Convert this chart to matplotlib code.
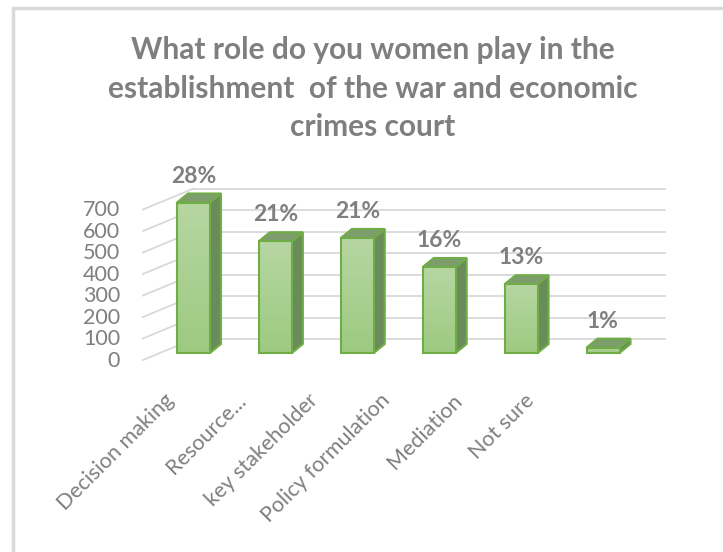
import numpy as np
import matplotlib
matplotlib.use("Agg")
import matplotlib.pyplot as plt
from matplotlib.patches import Polygon, Rectangle
from matplotlib.colors import LinearSegmentedColormap

plt.rcParams['font.family'] = ['Lato', 'DejaVu Sans']

title_lines = ["What role do you women play in the",
               "establishment  of the war and economic",
               "crimes court"]
categories = ["Decision making", "Resource...", "key stakeholder",
              "Policy formulation", "Mediation", "Not sure"]
counts = [700, 520, 535, 400, 320, 25]
y_ticks = [0, 100, 200, 300, 400, 500, 600, 700]

# colours of the 3d columns
edge_col = "#70ad47"
side_col = "#6a8c5a"
top_col = "#7d9d6d"
grid_col = "#d9d9d9"
text_col = "#7f7f7f"

# figure geometry (pixels)
W, H = 723, 552
px_x = 81.9    # pixels per category
px_y = 0.215   # pixels per unit of value
x0_px, base_px = 193.5, 353

fig = plt.figure(figsize=(W / 100, H / 100), dpi=100)
ax = fig.add_axes([0, 0, 1, 1])
ax.axis("off")

# depth offsets in data units
bar_dx, bar_dy = 11 / px_x, 9 / px_y
half_w = 16.5 / px_x
wall_dx, wall_dy = 19 / px_x, 14 / px_y
front_dx, front_dy = -50.5 / px_x, -7 / px_y
wall_right = 5.757

# back wall grid and side wall diagonals
for t in y_ticks:
    ax.plot([wall_dx - half_w - 0.03, wall_right], [t + wall_dy, t + wall_dy],
            color=grid_col, lw=1.3, zorder=1)
    ax.plot([front_dx, wall_dx - half_w - 0.03], [t + front_dy, t + wall_dy],
            color=grid_col, lw=1.3, zorder=1)
    ax.text(-0.897, t - 37, str(t), ha="right", va="center",
            fontsize=15.5, color=text_col)

cmap = LinearSegmentedColormap.from_list("face", ["#9dca81", "#b6d6a2"])
grad = np.linspace(0, 1, 64).reshape(-1, 1)
total = sum(counts)

for i, v in enumerate(counts):
    l, r = i - half_w, i + half_w
    # side face
    side = Polygon([(r, 0), (r + bar_dx, bar_dy), (r + bar_dx, v + bar_dy), (r, v)],
                   closed=True, fc=side_col, ec=edge_col, lw=1.5, zorder=3)
    ax.add_patch(side)
    # top face
    top = Polygon([(l, v), (l + bar_dx, v + bar_dy), (r + bar_dx, v + bar_dy), (r, v)],
                  closed=True, fc=top_col, ec=edge_col, lw=1.5, zorder=3)
    ax.add_patch(top)
    # front face with vertical gradient
    im = ax.imshow(grad, cmap=cmap, origin="lower", aspect="auto",
                   extent=[l, r, 0, v], zorder=4)
    front = Rectangle((l, 0), r - l, v, fc="none", ec=edge_col, lw=1.5, zorder=5)
    ax.add_patch(front)
    im.set_clip_path(front)
    pct = round(100 * v / total)
    ax.text(i, v + 122, f"{pct}%", ha="center", va="center",
            fontsize=16.5, fontweight="bold", color=text_col, zorder=6)

# rotated category labels along the front edge
for i, name in enumerate(categories):
    x = (164 + 72 * i - x0_px) / px_x
    ax.text(x, (base_px - 390) / px_y, name, rotation=45, rotation_mode="anchor",
            ha="right", va="top", fontsize=15.5, color=text_col)

ax.set_xlim((0 - x0_px) / px_x, (W - x0_px) / px_x)
ax.set_ylim((base_px - H) / px_y, base_px / px_y)

for k, line in enumerate(title_lines):
    fig.text(373 / W, 1 - (50 + 38.5 * k) / H, line, ha="center", va="center",
             fontsize=21.5, fontweight="bold", color=text_col)

# chart area border
border = Rectangle((13 / W, -0.1), 1.2, 1 - 8 / H + 0.1, transform=fig.transFigure,
                   fill=False, ec="#d9d9d9", lw=2.5)
fig.patches.append(border)

fig.savefig("out.png", dpi=100)
